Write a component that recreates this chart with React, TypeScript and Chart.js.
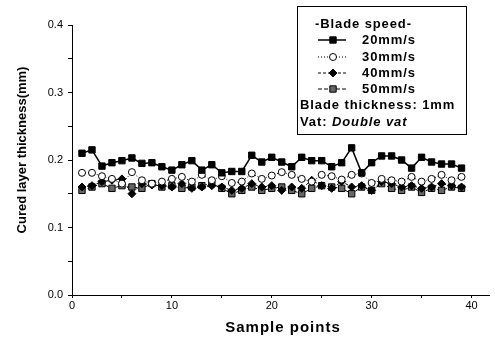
import React, { useEffect, useRef } from "react";
import { Chart, registerables } from "chart.js";

Chart.register(...registerables);

const samplePoints = [1,2,3,4,5,6,7,8,9,10,11,12,13,14,15,16,17,18,19,20,21,22,23,24,25,26,27,28,29,30,31,32,33,34,35,36,37,38,39];
const speed20 = [0.210,0.215,0.191,0.196,0.199,0.203,0.195,0.196,0.190,0.185,0.193,0.199,0.185,0.193,0.181,0.183,0.183,0.207,0.197,0.204,0.197,0.190,0.204,0.199,0.199,0.190,0.196,0.218,0.181,0.196,0.206,0.206,0.200,0.188,0.204,0.197,0.194,0.194,0.188];
const speed30 = [0.181,0.181,0.176,0.172,0.165,0.182,0.170,0.165,0.168,0.172,0.175,0.168,0.178,0.170,0.176,0.166,0.168,0.180,0.172,0.177,0.182,0.178,0.172,0.168,0.178,0.176,0.171,0.178,0.180,0.166,0.172,0.170,0.168,0.175,0.168,0.172,0.178,0.170,0.175];
const speed40 = [0.160,0.162,0.168,0.170,0.172,0.150,0.165,0.163,0.162,0.160,0.165,0.158,0.160,0.162,0.160,0.155,0.158,0.165,0.160,0.162,0.155,0.160,0.158,0.170,0.162,0.158,0.168,0.160,0.162,0.155,0.168,0.165,0.160,0.162,0.158,0.160,0.165,0.162,0.160];
const speed50 = [0.155,0.160,0.165,0.158,0.162,0.160,0.158,0.165,0.160,0.162,0.158,0.160,0.162,0.165,0.158,0.150,0.155,0.160,0.155,0.158,0.160,0.155,0.150,0.158,0.162,0.160,0.158,0.150,0.160,0.155,0.165,0.158,0.155,0.160,0.152,0.158,0.155,0.160,0.158];
const seriesLabels = ["20mm/s", "30mm/s", "40mm/s", "50mm/s"];
const xTickValues = [0,5,10,15,20,25,30,35,40];
const yTickValues = [0,0.05,0.1,0.15,0.2,0.25,0.3,0.35,0.4];

const FONT = "'Liberation Sans', Arial, sans-serif";

const styles = [
  { pointStyle: "rect", bg: "#000", dash: [] as number[], lw: 1.5, r: 4.5 },
  { pointStyle: "circle", bg: "#fff", dash: [1, 2], lw: 1, r: 3.5 },
  { pointStyle: "rectRot", bg: "#000", dash: [3, 2], lw: 1, r: 4 },
  { pointStyle: "rect", bg: "#666", dash: [4, 2], lw: 1, r: 4.5 },
];

function drawMarker(ctx: CanvasRenderingContext2D, style: string, x: number, y: number, r: number, bg: string) {
  ctx.save();
  ctx.setLineDash([]);
  ctx.fillStyle = bg;
  ctx.strokeStyle = "#000";
  ctx.lineWidth = 1;
  ctx.beginPath();
  if (style === "circle") ctx.arc(x, y, r, 0, Math.PI * 2);
  else if (style === "rectRot") {
    ctx.moveTo(x, y - r); ctx.lineTo(x + r, y); ctx.lineTo(x, y + r); ctx.lineTo(x - r, y); ctx.closePath();
  } else {
    const h = r * Math.SQRT1_2;
    ctx.rect(x - h, y - h, 2 * h, 2 * h);
  }
  ctx.fill();
  ctx.stroke();
  ctx.restore();
}

const decorPlugin = {
  id: "decor",
  afterDraw(chart: any) {
    const ctx: CanvasRenderingContext2D = chart.ctx;
    ctx.save();
    ctx.fillStyle = "#000";
    ctx.textBaseline = "middle";
    // axis titles
    ctx.font = `bold 15px ${FONT}`;
    (ctx as any).letterSpacing = "1px";
    ctx.textAlign = "center";
    ctx.fillText("Sample points", 283, 328);
    ctx.save();
    ctx.translate(22, 150);
    ctx.rotate(-Math.PI / 2);
    ctx.font = `bold 13px ${FONT}`;
    (ctx as any).letterSpacing = "0px";
    ctx.fillText("Cured layer thickness(mm)", 0, 0);
    ctx.restore();

    // legend box
    ctx.strokeStyle = "#000";
    ctx.lineWidth = 1;
    ctx.setLineDash([]);
    ctx.strokeRect(297.5, 6.5, 169, 128);
    ctx.textAlign = "left";
    ctx.font = `bold 13px ${FONT}`;
    (ctx as any).letterSpacing = "0.9px";
    ctx.fillText("-Blade speed-", 315, 24);
    const ys = [40, 57, 73, 89];
    seriesLabels.forEach((lab, i) => {
      const s = styles[i];
      ctx.save();
      ctx.setLineDash(s.dash);
      ctx.lineWidth = s.lw;
      ctx.beginPath();
      ctx.moveTo(318, ys[i]);
      ctx.lineTo(346, ys[i]);
      ctx.stroke();
      ctx.restore();
      drawMarker(ctx, s.pointStyle, 333, ys[i], s.r, s.bg);
      ctx.fillText(lab, 362, ys[i]);
    });
    ctx.fillText("Blade thickness: 1mm", 300, 105);
    ctx.fillText("Vat: ", 300, 122);
    const w = ctx.measureText("Vat: ").width;
    ctx.font = `italic bold 13px ${FONT}`;
    ctx.fillText("Double vat", 300 + w, 122);
    ctx.restore();
  },
};

export default function App() {
  const ref = useRef<HTMLCanvasElement>(null);
  useEffect(() => {
    const all = [speed20, speed30, speed40, speed50];
    const chart = new Chart(ref.current!, {
      type: "line",
      data: {
        datasets: all.map((vals, i) => ({
          label: seriesLabels[i],
          data: samplePoints.map((x, j) => ({ x, y: vals[j] })),
          borderColor: "#000",
          borderWidth: styles[i].lw,
          borderDash: styles[i].dash,
          pointStyle: styles[i].pointStyle as any,
          pointRadius: styles[i].r,
          pointBackgroundColor: styles[i].bg,
          pointBorderColor: "#000",
          pointBorderWidth: 1,
          tension: 0,
        })),
      },
      options: {
        responsive: false,
        animation: false,
        events: [],
        layout: { padding: { top: 25, right: 0, left: 0, bottom: 0 } },
        plugins: { legend: { display: false }, tooltip: { enabled: false } },
        scales: {
          x: {
            type: "linear",
            min: 0,
            max: 41.8,
            afterFit: (s: any) => { s.height = 48; },
            afterBuildTicks: (s: any) => { s.ticks = xTickValues.map((v) => ({ value: v })); },
            ticks: {
              color: "#000",
              font: { family: FONT, size: 11 },
              padding: 1,
              maxRotation: 0,
              autoSkip: false,
              callback: (v: any) => (v % 10 === 0 ? String(v) : ""),
            },
            grid: { display: true, drawOnChartArea: false, drawTicks: true, tickLength: 3, color: "#000" },
            border: { display: true, color: "#000", width: 1 },
          },
          y: {
            type: "linear",
            min: 0,
            max: 0.4,
            afterFit: (s: any) => { s.width = 72; },
            afterBuildTicks: (s: any) => { s.ticks = yTickValues.map((v) => ({ value: v })); },
            ticks: {
              color: "#000",
              font: { family: FONT, size: 11 },
              padding: 5,
              autoSkip: false,
              callback: (v: any) => {
                const r = Math.round(v * 100);
                return r % 10 === 0 ? (r / 100).toFixed(1) : "";
              },
            },
            grid: { display: true, drawOnChartArea: false, drawTicks: true, tickLength: 4, color: "#000" },
            border: { display: true, color: "#000", width: 1 },
          },
        },
      },
      plugins: [decorPlugin],
    });
    return () => chart.destroy();
  }, []);
  return (
    <div style={{ position: "absolute", left: 0, top: 0, width: 495, height: 343, background: "#fff" }}>
      <canvas ref={ref} width={495} height={343} style={{ display: "block" }} />
    </div>
  );
}
